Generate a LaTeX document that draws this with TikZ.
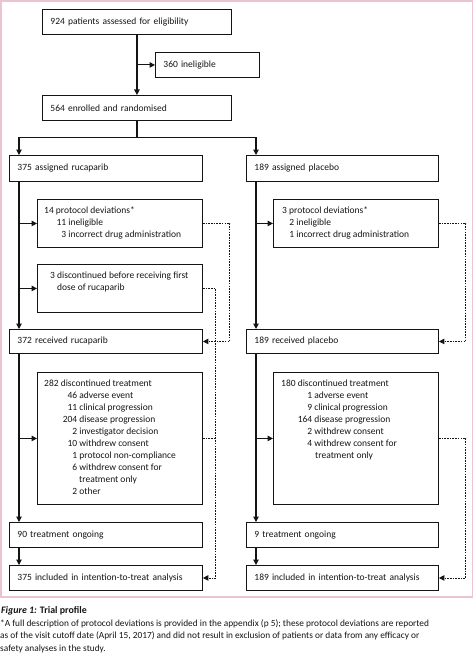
\documentclass[tikz,border=0pt]{standalone}
\usepackage{fontspec}
\setmainfont{Carlito}
\usetikzlibrary{arrows.meta}
\definecolor{frame}{RGB}{234,196,211}
\definecolor{ink}{RGB}{20,20,20}
\begin{document}
\begin{tikzpicture}[x=1pt,y=-1pt,
  every node/.style={text=ink},
  box/.style={draw=ink, line width=0.9pt, inner sep=0pt, anchor=north west},
  sbox/.style={box, align=left, font=\fontsize{9.5}{12}\selectfont, inner xsep=8pt},
  txt/.style={anchor=north west, align=left, inner sep=0pt, font=\fontsize{9.5}{12}\selectfont},
  solid line/.style={draw=ink, line width=1.1pt},
  arr/.style={solid line, -{Triangle[length=5.5pt,width=5.5pt]}},
  dsh/.style={draw=ink, line width=0.9pt, dash pattern=on 1.6pt off 1.1pt},
  darr/.style={dsh, -{Triangle[length=5.5pt,width=5.5pt]}},
]
\useasboundingbox (0,0) rectangle (474,658);
\draw[frame, line width=1.2pt] (1,1) rectangle (472.5,597);

% single-line boxes
\node[sbox, minimum width=189pt, text width=173pt, minimum height=25pt] (b924) at (42,9) {924 patients assessed for eligibility};
\node[sbox, minimum width=104pt, text width=88pt, minimum height=25pt] (b360) at (155,52) {360 ineligible};
\node[sbox, minimum width=189pt, text width=173pt, minimum height=25pt] (b564) at (42,95) {564 enrolled and randomised};
\node[sbox, minimum width=193pt, text width=177pt, minimum height=26pt] (bL1) at (9,155) {375 assigned rucaparib};
\node[sbox, minimum width=192pt, text width=176pt, minimum height=26pt] (bR1) at (246,155) {189 assigned placebo};
\node[sbox, minimum width=193pt, text width=177pt, minimum height=24pt] (bL2) at (9,329) {372 received rucaparib};
\node[sbox, minimum width=192pt, text width=176pt, minimum height=24pt] (bR2) at (246,329) {189 received placebo};
\node[sbox, minimum width=193pt, text width=177pt, minimum height=25pt] (bL3) at (9,522) {90 treatment ongoing};
\node[sbox, minimum width=192pt, text width=176pt, minimum height=25pt] (bR3) at (246,522) {9 treatment ongoing};
\node[sbox, minimum width=193pt, text width=177pt, minimum height=25pt] (bL4) at (9,565) {375 included in intention-to-treat analysis};
\node[sbox, minimum width=192pt, text width=176pt, minimum height=25pt] (bR4) at (246,565) {189 included in intention-to-treat analysis};

% multi-line boxes
\node[box, minimum width=165pt, minimum height=48pt] (bLdev) at (37,199) {};
\node[box, minimum width=165pt, minimum height=48pt] (bRdev) at (273,199) {};
\node[box, minimum width=165pt, minimum height=48pt] (bLdisc) at (37,264) {};
\node[box, minimum width=165pt, minimum height=132pt] (bLdt) at (37,372) {};
\node[box, minimum width=165pt, minimum height=132pt] (bRdt) at (273,372) {};

\node[txt] (tLdev) at (44,206.5) {14 protocol deviations*\\
  \makebox[22pt][r]{11}~ineligible\\
  \makebox[22pt][r]{3}~incorrect drug administration};
\node[txt] (tRdev) at (282,206.5) {3 protocol deviations*\\
  \makebox[12pt][r]{2}~ineligible\\
  \makebox[12pt][r]{1}~incorrect drug administration};
\node[txt] (tLdisc) at (50,271.5) {3 discontinued before receiving first\\
  \hspace*{7pt}dose of rucaparib};
\node[txt] (tLdt) at (44,379.5) {282 discontinued treatment\\
  \makebox[33pt][r]{46}~adverse event\\
  \makebox[33pt][r]{11}~clinical progression\\
  \makebox[33pt][r]{204}~disease progression\\
  \makebox[33pt][r]{2}~investigator decision\\
  \makebox[33pt][r]{10}~withdrew consent\\
  \makebox[33pt][r]{1}~protocol non-compliance\\
  \makebox[33pt][r]{6}~withdrew consent for\\
  \hspace*{35pt}treatment only\\
  \makebox[33pt][r]{2}~other};
\node[txt] (tRdt) at (281,379.5) {180 discontinued treatment\\
  \makebox[31pt][r]{1}~adverse event\\
  \makebox[31pt][r]{9}~clinical progression\\
  \makebox[31pt][r]{164}~disease progression\\
  \makebox[31pt][r]{2}~withdrew consent\\
  \makebox[31pt][r]{4}~withdrew consent for\\
  \hspace*{34pt}treatment only};

% solid connectors
\draw[arr] (b924.south) -- (b564.north);
\draw[arr] (b924.south |- b360.west) -- (b360.west);
\draw[solid line] (b564.south) -- ++(0,17) coordinate (split);
\draw[arr] (split) -| ([xshift=10pt]bL1.north west);
\draw[arr] (split) -| ([xshift=10pt]bR1.north west);

\draw[arr] ([xshift=10pt]bL1.south west) -- ([xshift=10pt]bL2.north west);
\draw[arr] ([xshift=10pt]bL1.south west |- bLdev.west) -- (bLdev.west);
\draw[arr] ([xshift=10pt]bL1.south west |- bLdisc.west) -- (bLdisc.west);
\draw[arr] ([xshift=10pt]bL2.south west) -- ([xshift=10pt]bL3.north west);
\draw[arr] ([xshift=10pt]bL2.south west |- bLdt.west) -- (bLdt.west);
\draw[arr] ([xshift=10pt]bL3.south west) -- ([xshift=10pt]bL4.north west);

\draw[arr] ([xshift=10pt]bR1.south west) -- ([xshift=10pt]bR2.north west);
\draw[arr] ([xshift=10pt]bR1.south west |- bRdev.west) -- (bRdev.west);
\draw[arr] ([xshift=10pt]bR2.south west) -- ([xshift=10pt]bR3.north west);
\draw[arr] ([xshift=10pt]bR2.south west |- bRdt.west) -- (bRdt.west);
\draw[arr] ([xshift=10pt]bR3.south west) -- ([xshift=10pt]bR4.north west);

% dashed connectors
\draw[darr] (bLdev.east) -- ++(27,0) |- (bL2.east);
\draw[darr] (bLdisc.east) -- ++(13,0) |- (bL4.east);
\draw[dsh] (bLdt.east) -- ++(13,0);
\draw[darr] (bRdev.east) -- ++(27,0) |- (bR2.east);
\draw[darr] (bRdt.east) -- ++(27,0) |- (bR4.east);

% caption
\node[anchor=north west, inner sep=0pt, font=\fontsize{9.9}{11}\selectfont\bfseries] (cap) at (1,606) {\textit{Figure 1:} Trial profile};
\node[anchor=north west, inner sep=0pt, align=left, font=\fontsize{9.35}{12.3}\selectfont] (foot) at (0,619.5) {*A full description of protocol deviations is provided in the appendix (p 5); these protocol deviations are reported\\
as of the visit cutoff date (April 15, 2017) and did not result in exclusion of patients or data from any efficacy or\\
safety analyses in the study.};
\end{tikzpicture}
\end{document}
